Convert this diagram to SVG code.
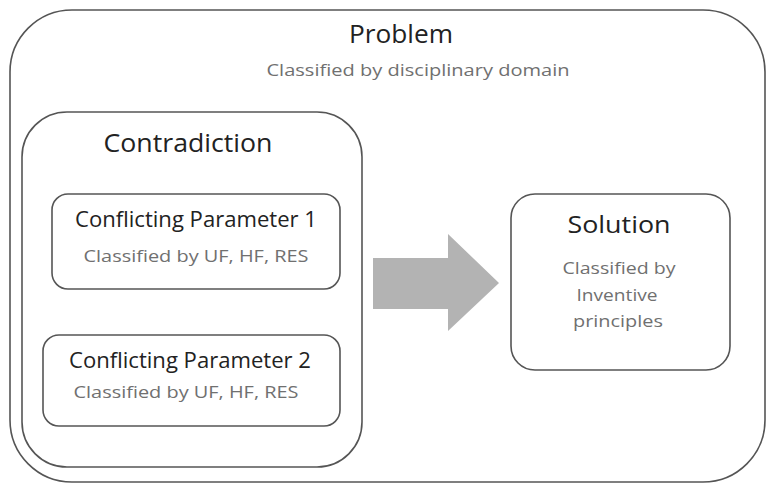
<svg xmlns="http://www.w3.org/2000/svg" width="770" height="486" viewBox="0 0 770 486">
<style>
.box{fill:#fff;stroke:#555;stroke-width:1.6}
.t{font-family:"Open Sans","Noto Sans",sans-serif;fill:#222;text-anchor:middle}
.s{font-family:"Open Sans","Noto Sans",sans-serif;fill:#707070;text-anchor:middle}
</style>
<rect width="770" height="486" fill="#fff"/>
<g id="problem">
<rect class="box" x="10" y="10" width="755" height="472" rx="62"/>
<text class="t" x="401" y="43" font-size="25" textLength="104" lengthAdjust="spacingAndGlyphs">Problem</text>
<text class="s" x="418" y="76" font-size="17" textLength="303" lengthAdjust="spacingAndGlyphs">Classified by disciplinary domain</text>
</g>
<g id="contradiction">
<rect class="box" x="22" y="112" width="340" height="355" rx="45"/>
<text class="t" x="188" y="152" font-size="25" textLength="169" lengthAdjust="spacingAndGlyphs">Contradiction</text>
</g>
<g id="param1">
<rect class="box" x="52" y="194" width="288" height="95" rx="16"/>
<text class="t" x="196" y="227" font-size="21" textLength="242" lengthAdjust="spacingAndGlyphs">Conflicting Parameter 1</text>
<text class="s" x="196" y="262" font-size="17" textLength="225" lengthAdjust="spacingAndGlyphs">Classified by UF, HF, RES</text>
</g>
<g id="param2">
<rect class="box" x="43" y="335" width="297" height="91" rx="16"/>
<text class="t" x="190" y="368" font-size="21" textLength="242" lengthAdjust="spacingAndGlyphs">Conflicting Parameter 2</text>
<text class="s" x="186" y="398" font-size="17" textLength="225" lengthAdjust="spacingAndGlyphs">Classified by UF, HF, RES</text>
</g>
<g id="solution">
<rect class="box" x="511" y="194" width="219" height="176" rx="24"/>
<text class="t" x="619" y="233" font-size="24" textLength="103" lengthAdjust="spacingAndGlyphs">Solution</text>
<text class="s" x="619" y="274" font-size="17" textLength="113" lengthAdjust="spacingAndGlyphs">Classified by</text>
<text class="s" x="617" y="301" font-size="17" textLength="81" lengthAdjust="spacingAndGlyphs">Inventive</text>
<text class="s" x="618" y="327" font-size="17" textLength="90" lengthAdjust="spacingAndGlyphs">principles</text>
</g>
<g id="connectors">
<polygon points="373,258 448,258 448,234 499,283 448,331 448,309 373,309" fill="#b3b3b3"/>
</g>
</svg>
